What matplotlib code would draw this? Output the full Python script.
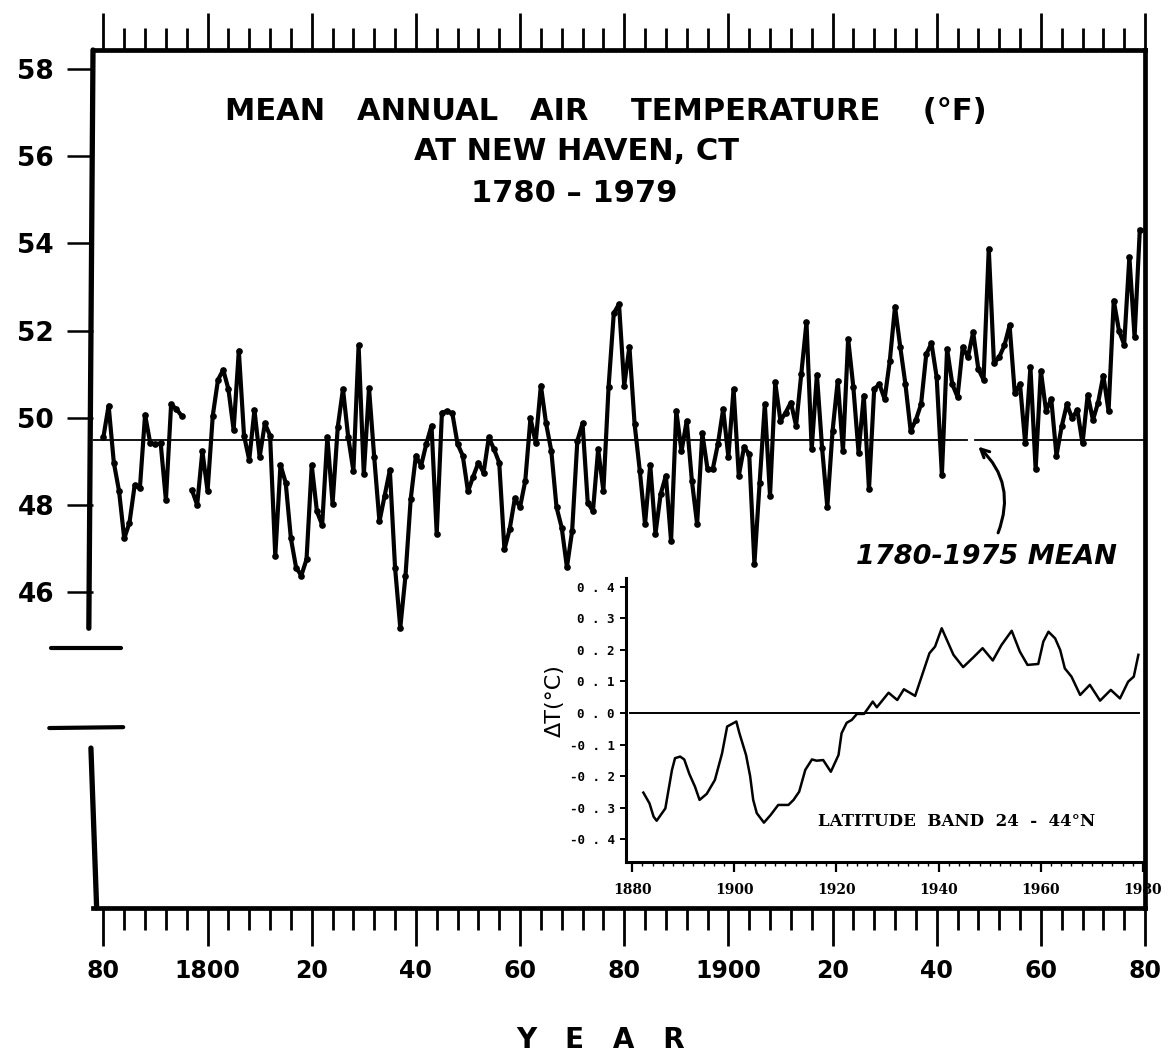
import numpy as np
import matplotlib
matplotlib.use("Agg")
import matplotlib.pyplot as plt
from matplotlib.ticker import FixedLocator, MultipleLocator

# ---------------- data ----------------
# Mean annual air temperature (F), New Haven CT
temps_1780_1795 = [49.56, 50.28, 48.97, 48.32, 47.23, 47.59, 48.45, 48.38, 50.07, 49.41,
                   49.40, 49.41, 48.11, 50.31, 50.20, 50.05]
temps_1797_1828 = [48.34, 48.00, 49.23, 48.32, 50.05, 50.87, 51.10, 50.66, 49.72, 51.54,
                   49.59, 49.03, 50.18, 49.10, 49.87, 49.59, 46.83, 48.92, 48.51, 47.23,
                   46.56, 46.38, 46.75, 48.91, 47.85, 47.54, 49.56, 48.03, 49.79, 50.66,
                   49.56, 48.78]
temps_1829_1876 = [51.66, 48.70, 50.68, 49.09, 47.62, 48.21, 48.80, 46.56, 45.18, 46.37,
                   48.13, 49.13, 48.90, 49.40, 49.82, 47.34, 50.12, 50.15, 50.10, 49.40,
                   49.13, 48.31, 48.65, 48.97, 48.74, 49.55, 49.28, 48.97, 46.98, 47.44,
                   48.15, 47.95, 48.55, 49.99, 49.43, 50.74, 49.87, 49.24, 47.95, 47.48,
                   46.57, 47.40, 49.47, 49.87, 48.05, 47.86, 49.28, 48.32]
temps_1877_1928 = [50.71, 52.40, 52.61, 50.74, 51.63, 49.85, 48.78, 47.56, 48.92, 47.34,
                   48.25, 48.67, 47.17, 50.16, 49.23, 49.93, 48.55, 47.56, 49.64, 48.82,
                   48.82, 49.40, 50.20, 49.10, 50.66, 48.67, 49.32, 49.17, 46.65, 48.50,
                   50.31, 48.21, 50.81, 49.93, 50.12, 50.35, 49.82, 51.00, 52.19, 49.28,
                   50.99, 49.30, 47.95, 49.69, 50.85, 49.24, 51.81, 50.70, 49.20, 50.51,
                   48.36, 50.66]
temps_1929_1979 = [50.77, 50.43, 51.31, 52.55, 51.63, 50.77, 49.70, 49.95, 50.31, 51.46,
                   51.71, 50.93, 48.69, 51.58, 50.77, 50.48, 51.62, 51.39, 51.96, 51.12,
                   50.87, 53.88, 51.25, 51.39, 51.66, 52.12, 50.56, 50.77, 49.41, 51.16,
                   48.82, 51.08, 50.16, 50.43, 49.13, 49.80, 50.31, 49.99, 50.18, 49.41,
                   50.53, 49.95, 50.35, 50.97, 50.15, 52.69, 52.00, 51.68, 53.69, 51.85,
                   54.31]
years = np.arange(1780, 1980)
temps = np.array(temps_1780_1795 + [np.nan] + temps_1797_1828 + temps_1829_1876
                 + temps_1877_1928 + temps_1929_1979)
mean_1780_1975 = 49.5

ytick_values = [46, 48, 50, 52, 54, 56, 58]
xtick_years = [1780, 1800, 1820, 1840, 1860, 1880, 1900, 1920, 1940, 1960, 1980]
xtick_labels = ["80", "1800", "20", "40", "60", "80", "1900", "20", "40", "60", "80"]

# Inset: latitude band 24-44N temperature anomaly (C)
inset_years = [1882.2, 1883.4, 1884.2, 1884.8, 1886.5, 1887.8, 1888.4, 1889.4, 1890.2, 1891.2,
               1892.3, 1893.2, 1894.6, 1896.2, 1897.6, 1898.6, 1900.4, 1901.0, 1902.3, 1903.1,
               1903.7, 1904.4, 1905.8, 1907.1, 1908.6, 1910.6, 1911.6, 1912.7, 1913.9, 1915.2,
               1916.1, 1917.4, 1918.9, 1920.4, 1921.0, 1922.0, 1923.0, 1924.0, 1925.4, 1926.2,
               1927.1, 1927.9, 1930.2, 1931.9, 1933.2, 1935.4, 1938.2, 1939.3, 1940.6, 1942.9,
               1944.8, 1946.8, 1948.6, 1950.6, 1952.3, 1954.3, 1955.9, 1957.4, 1959.5, 1960.5,
               1961.5, 1962.8, 1963.8, 1964.7, 1966.0, 1967.7, 1969.6, 1971.6, 1973.7, 1975.5,
               1977.1, 1978.2, 1979.1]
inset_dT = [-0.252, -0.286, -0.328, -0.341, -0.302, -0.180, -0.143, -0.138, -0.147, -0.193,
            -0.233, -0.275, -0.256, -0.212, -0.128, -0.043, -0.027, -0.064, -0.133, -0.200,
            -0.275, -0.317, -0.347, -0.323, -0.291, -0.291, -0.275, -0.249, -0.180, -0.147,
            -0.151, -0.149, -0.186, -0.133, -0.064, -0.031, -0.022, -0.003, -0.003, 0.015,
            0.036, 0.018, 0.064, 0.041, 0.075, 0.054, 0.189, 0.210, 0.268, 0.184,
            0.145, 0.176, 0.205, 0.166, 0.215, 0.260, 0.194, 0.152, 0.155, 0.226,
            0.257, 0.236, 0.199, 0.141, 0.115, 0.057, 0.089, 0.039, 0.073, 0.046,
            0.099, 0.115, 0.184]
inset_yticks = [0.4, 0.3, 0.2, 0.1, 0.0, -0.1, -0.2, -0.3, -0.4]
inset_xticks = [1880, 1900, 1920, 1940, 1960, 1980]

# ---------------- figure ----------------
W, H = 1172, 1061
fig = plt.figure(figsize=(W / 100, H / 100), dpi=100)
fig.patch.set_facecolor("white")
TITLE_FONT = ["DejaVu Sans"]


def fx(px):
    return px / W


def fy(py):
    return (H - py) / H


# main axes: left 93 px, right 1145 px, top 50 px, bottom 908 px
ax = fig.add_axes([fx(93), fy(908), fx(1145) - fx(93), fy(50) - fy(908)])
ax.set_xlim(1778.0, 1980.0)
ax.set_ylim(38.75, 58.44)
ax.set_facecolor("none")

for s in ["top", "right", "bottom"]:
    ax.spines[s].set_linewidth(3.4)
ax.spines["left"].set_visible(False)

# broken left axis drawn by hand
ax.plot([1778.0, 1777.2], [58.44, 45.17], color="black", lw=3.8, clip_on=False,
        solid_capstyle="round")
ax.plot([1777.6, 1778.7], [42.42, 38.75], color="black", lw=3.8, clip_on=False,
        solid_capstyle="round")
ax.plot([1770.0, 1783.4], [44.71, 44.71], color="black", lw=3.0, clip_on=False,
        solid_capstyle="round")
ax.plot([1769.6, 1783.8], [42.88, 42.90], color="black", lw=3.0, clip_on=False,
        solid_capstyle="round")

# ticks
ax.xaxis.set_major_locator(FixedLocator(xtick_years))
ax.xaxis.set_minor_locator(MultipleLocator(4))
ax.set_xticklabels(xtick_labels)
ax.tick_params(axis="x", which="major", top=True, bottom=True, direction="out",
               length=27, width=2.0, pad=10, labelsize=17)
ax.tick_params(axis="x", which="minor", top=True, bottom=True, direction="out",
               length=16, width=2.0)
for lab in ax.get_xticklabels():
    lab.set_fontweight("bold")
    lab.set_fontfamily("DejaVu Sans")

ax.yaxis.set_major_locator(FixedLocator(ytick_values))
ax.set_yticklabels([str(v) for v in ytick_values])
ax.tick_params(axis="y", which="major", left=True, right=False, direction="out",
               length=19, width=1.8, pad=9, labelsize=19)
for lab in ax.get_yticklabels():
    lab.set_fontweight("bold")

# mean line with small gap at arrow
ax.plot([1778.0, 1945.8], [mean_1780_1975] * 2, color="black", lw=1.3)
ax.plot([1947.4, 1979.6], [mean_1780_1975] * 2, color="black", lw=1.3)

# data series
ax.plot(years, temps, color="black", lw=3.0, marker="o", markersize=3.8,
        solid_joinstyle="round")

# title
fig.text(fx(606), fy(111), "MEAN   ANNUAL   AIR    TEMPERATURE    (°F)", ha="center",
         va="center", fontsize=22, family=TITLE_FONT, fontweight="bold")
fig.text(fx(577), fy(151), "AT NEW HAVEN, CT", ha="center", va="center",
         fontsize=22, family=TITLE_FONT, fontweight="bold")
fig.text(fx(574), fy(193), "1780 – 1979", ha="center", va="center",
         fontsize=22, family=TITLE_FONT, fontweight="bold")

# annotation
fig.text(fx(986), fy(557), "1780-1975 MEAN", ha="center", va="center",
         fontsize=19.5, fontweight="bold", style="italic", family="DejaVu Sans")
ax.annotate("", xy=(1947.6, 49.38), xytext=(1951.6, 47.3),
            arrowprops=dict(arrowstyle="->,head_length=0.6,head_width=0.3", lw=2.2,
                            color="black", connectionstyle="arc3,rad=0.35"))

# x label
fig.text(fx(601), fy(1040), "Y   E   A   R", ha="center", va="center",
         fontsize=20, family=TITLE_FONT, fontweight="bold")

# ---------------- inset ----------------
axi = fig.add_axes([fx(626), fy(862), fx(1144) - fx(626), fy(578) - fy(862)])
axi.set_facecolor("none")
axi.set_xlim(1878.8, 1980.2)
axi.set_ylim(-0.4715, 0.427)
axi.spines["top"].set_visible(False)
axi.spines["right"].set_visible(False)
axi.spines["left"].set_linewidth(2.2)
axi.spines["bottom"].set_linewidth(2.2)

axi.plot(inset_years, inset_dT, color="black", lw=1.8)
axi.plot([1879.5, 1979.3], [0, 0], color="black", lw=1.4)

axi.yaxis.set_major_locator(FixedLocator(inset_yticks))
axi.set_yticklabels([f"{v:.1f}".replace(".", " . ") for v in inset_yticks])
axi.tick_params(axis="y", direction="out", length=4, width=1.4, pad=4, labelsize=9)
for lab in axi.get_yticklabels():
    lab.set_fontfamily("DejaVu Sans Mono")
    lab.set_fontweight("bold")

axi.xaxis.set_major_locator(FixedLocator(inset_xticks))
axi.xaxis.set_minor_locator(MultipleLocator(2))
axi.set_xticklabels([str(v) for v in inset_xticks])
axi.tick_params(axis="x", which="major", direction="out", length=7, width=1.6, pad=8,
                labelsize=10)
axi.tick_params(axis="x", which="minor", direction="out", length=3, width=1.0)
for lab in axi.get_xticklabels():
    lab.set_fontfamily("DejaVu Serif")
    lab.set_fontweight("bold")

axi.set_ylabel("ΔT(°C)", fontsize=16, family="DejaVu Sans")
axi.yaxis.set_label_coords(-0.118, 0.57)

axi.text(0.37, 0.142, "LATITUDE  BAND  24  -  44°N", transform=axi.transAxes,
         ha="left", va="center", fontsize=12, fontweight="bold", family="DejaVu Serif")

fig.savefig("out.png", dpi=100, facecolor="white")
